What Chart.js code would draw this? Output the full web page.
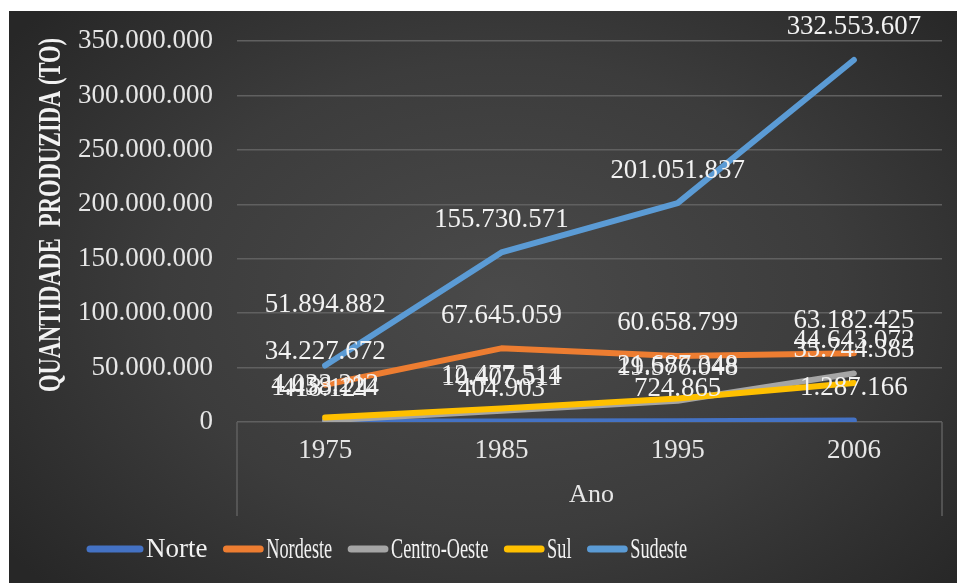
<!DOCTYPE html>
<html>
<head>
<meta charset="utf-8">
<script src="https://cdn.jsdelivr.net/npm/chart.js@4.4.1/dist/chart.umd.min.js"></script>
<style>
html, body { margin: 0; padding: 0; background: #ffffff; }
#quadro {
    position: absolute; left: 9px; top: 11px; width: 948px; height: 572px;
    background: radial-gradient(ellipse 65% 75% at 52% 50%, #4a4a4a 0%, #3c3c3c 55%, #272727 100%);
}
</style>
</head>
<body>
<div id="quadro"><canvas id="grafico"></canvas></div>
<script>
// Dados do gráfico
const anos = ['1975', '1985', '1995', '2006'];
const regioes = ['Norte', 'Nordeste', 'Centro-Oeste', 'Sul', 'Sudeste'];
const norte = [418124, 404903, 724865, 1287166];
const nordeste = [34227672, 67645059, 60658799, 63182425];
const centroOeste = [1458124, 10407511, 19576048, 44643072];
const sul = [4033212, 12477514, 21687348, 35744385];
const sudeste = [51894882, 155730571, 201051837, 332553607];
const ticksY = [0, 50000000, 100000000, 150000000, 200000000, 250000000, 300000000, 350000000];

const cores = ['#4472C4', '#ED7D31', '#A5A5A5', '#FFC000', '#5B9BD5'];
const fonte = "'Liberation Serif', 'Times New Roman', serif";

// formata com ponto como separador de milhar
function formatar(v) {
    return String(v).replace(/\B(?=(\d{3})+(?!\d))/g, '.');
}

const valores = [norte, nordeste, centroOeste, sul, sudeste];
const datasets = valores.map((dados, i) => ({
    label: regioes[i],
    data: dados,
    borderColor: cores[i],
    backgroundColor: cores[i],
    borderWidth: 6,
    borderCapStyle: 'round',
    borderJoinStyle: 'round',
    pointRadius: 0,
    tension: 0,
    order: 5 - i
}));

// rótulos, título do eixo, legenda e caixa do eixo X
const extras = {
    id: 'extras',
    afterDatasetsDraw(chart) {
        const ctx = chart.ctx;
        const area = chart.chartArea;
        ctx.save();

        // rótulos de dados
        ctx.fillStyle = '#f2f2f2';
        ctx.font = '28px ' + fonte;
        ctx.textAlign = 'center';
        ctx.textBaseline = 'middle';
        chart.data.datasets.forEach((ds, i) => {
            const meta = chart.getDatasetMeta(i);
            meta.data.forEach((pt, j) => {
                let y = pt.y - 33;
                if (i === 4 && j === 0) y -= 28; // rótulo deslocado no original
                ctx.save();
                ctx.translate(pt.x, y);
                ctx.scale(0.96, 1);
                ctx.fillText(formatar(ds.data[j]), 0, 0);
                ctx.restore();
            });
        });

        // caixa do eixo de categorias
        ctx.strokeStyle = '#5f5f5f';
        ctx.lineWidth = 1.5;
        ctx.beginPath();
        ctx.moveTo(area.left, area.bottom);
        ctx.lineTo(area.left, area.bottom + 94);
        ctx.moveTo(area.right, area.bottom);
        ctx.lineTo(area.right, area.bottom + 94);
        ctx.stroke();

        // título eixo X
        ctx.fillStyle = '#e6e6e6';
        ctx.font = '26px ' + fonte;
        ctx.fillText('Ano', (area.left + area.right) / 2 + 2, 484);

        // título eixo Y
        ctx.save();
        ctx.translate(43, 204);
        ctx.rotate(-Math.PI / 2);
        ctx.font = 'bold 31px ' + fonte;
        const titulo = 'QUANTIDADE  PRODUZIDA (TO)';
        const largura = ctx.measureText(titulo).width;
        ctx.scale(354 / largura, 1);
        ctx.fillStyle = '#f2f2f2';
        ctx.fillText(titulo, 0, 0);
        ctx.restore();

        // legenda
        const escala = [1.0, 0.63, 0.63, 0.63, 0.63];
        let x = 78;
        const yLeg = 538;
        ctx.textAlign = 'left';
        regioes.forEach((nome, i) => {
            const comp = 56 * (i === 0 ? 1 : 0.71);
            ctx.strokeStyle = cores[i];
            ctx.lineWidth = 7;
            ctx.lineCap = 'round';
            ctx.beginPath();
            ctx.moveTo(x + 3, yLeg);
            ctx.lineTo(x + comp - 3, yLeg);
            ctx.stroke();
            x += comp + 3;
            ctx.font = (i === 0 ? 27 : 29) + 'px ' + fonte;
            ctx.save();
            ctx.translate(x, yLeg);
            ctx.scale(escala[i], 1);
            ctx.fillStyle = '#f2f2f2';
            ctx.fillText(nome, 0, 1);
            ctx.restore();
            x += ctx.measureText(nome).width * escala[i] + 16;
        });

        ctx.restore();
    }
};

const ctx = document.getElementById('grafico').getContext('2d');
const grafico = new Chart(ctx, {
    type: 'line',
    data: {
        labels: anos,
        datasets: datasets
    },
    options: {
        responsive: true,
        maintainAspectRatio: false,
        animation: false,
        layout: { padding: { left: 0, top: 30, right: 15, bottom: 0 } },
        plugins: {
            legend: { display: false },
            tooltip: { enabled: false }
        },
        scales: {
            x: {
                offset: true,
                grid: { display: false },
                border: { display: false },
                ticks: {
                    color: '#e6e6e6',
                    font: { family: fonte, size: 27 },
                    padding: 5,
                    maxRotation: 0
                },
                afterFit: (s) => { s.height = 161; }
            },
            y: {
                min: 0,
                max: 350000000,
                grid: { color: '#606060', lineWidth: 1.5, drawTicks: false },
                border: { display: false },
                afterBuildTicks: (s) => { s.ticks = ticksY.map(v => ({ value: v })); },
                ticks: {
                    color: '#e6e6e6',
                    font: { family: fonte, size: 27 },
                    padding: 24,
                    callback: (v) => formatar(v)
                },
                afterFit: (s) => {
                    s.width = 228;
                    s.paddingTop = 0;
                    s.paddingBottom = 0;
                }
            }
        }
    },
    plugins: [extras]
});
</script>
</body>
</html>
